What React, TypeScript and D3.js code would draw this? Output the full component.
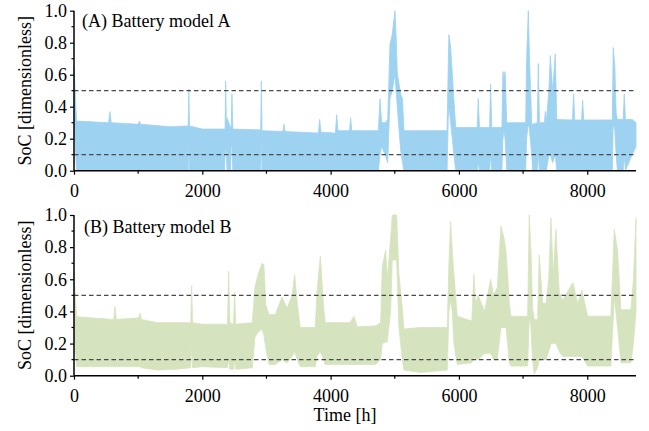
import { useEffect, useRef } from "react";
import * as d3 from "d3";

const width = 649;
const height = 431;
const left = 74;
const right = 636;

// hourly SoC (upper / lower edge of the daily swings)
const hoursA = [
  0, 40, 540, 560, 580, 1000, 1020, 1040, 1500, 1780, 1790, 1800, 2000, 2345, 2355, 2364, 2375, 2385, 2440, 2450,
  2462, 2475, 2900, 2910, 2920, 2930, 3255, 3273, 3290, 3810, 3829, 3850, 4075, 4094, 4115, 4295, 4312, 4330,
  4745, 4769, 4795, 4850, 4890, 4925, 4960, 5003, 5020, 5039, 5091, 5120, 5143, 5815, 5835, 5844, 5871, 5922,
  5950, 6285, 6301, 6320, 6478, 6494, 6512, 6670, 6685, 6703, 6720, 6745, 7040, 7055, 7081, 7100, 7135, 7150,
  7222, 7237, 7255, 7332, 7346, 7360, 7405, 7424, 7460, 7502, 7525, 7770, 7788, 7805, 7912, 7928, 7945, 8390,
  8405, 8430, 8450, 8470, 8560, 8577, 8595, 8700, 8760,
];
const highA = [
  0.65, 0.31, 0.3, 0.37, 0.3, 0.29, 0.31, 0.29, 0.275, 0.28, 0.51, 0.28, 0.26, 0.26, 0.26, 0.56, 0.3, 0.33, 0.27, 0.27,
  0.48, 0.26, 0.255, 0.255, 0.56, 0.25, 0.245, 0.29, 0.245, 0.235, 0.32, 0.24, 0.235, 0.35, 0.25, 0.25, 0.33, 0.25,
  0.25, 0.45, 0.3, 0.3, 0.32, 0.79, 0.85, 1.0, 0.85, 0.61, 0.48, 0.45, 0.25, 0.25, 0.7, 0.85, 0.77, 0.44,
  0.27, 0.27, 0.45, 0.27, 0.27, 0.54, 0.27, 0.27, 0.62, 0.58, 0.62, 0.3, 0.3, 0.7, 1.0, 0.7, 0.29, 0.29,
  0.3, 0.67, 0.3, 0.3, 0.37, 0.3, 0.52, 0.72, 0.5, 0.73, 0.32, 0.317, 0.48, 0.317, 0.317, 0.44, 0.317, 0.317,
  0.77, 0.65, 0.36, 0.32, 0.32, 0.48, 0.32, 0.32, 0.3,
];
const lowA = [
  0.3, 0, 0, 0, 0, 0, 0, 0, 0, 0, 0.2, 0, 0, 0, 0.1, 0.15, 0.1, 0, 0, 0.15,
  0.15, 0, 0, 0, 0.25, 0, 0, 0, 0, 0, 0, 0, 0, 0, 0, 0, 0, 0,
  0, 0.1, 0.15, 0.1, 0.05, 0.45, 0.5, 0.6, 0.5, 0.4, 0.13, 0.05, 0, 0, 0.35, 0.4, 0.3, 0.1,
  0, 0, 0.05, 0, 0, 0.1, 0, 0, 0.2, 0.25, 0.2, 0, 0, 0.2, 0.3, 0.25, 0.1, 0,
  0, 0.1, 0, 0, 0, 0, 0.1, 0.1, 0.05, 0.1, 0, 0, 0, 0, 0, 0, 0, 0,
  0.3, 0.25, 0.1, 0, 0, 0.1, 0, 0.1, 0.15,
];

const hoursB = [
  0, 40, 620, 639, 660, 1010, 1029, 1050, 1300, 1600, 1820, 1834, 1848, 2000, 2392, 2411, 2430, 2487, 2504,
  2520, 2780, 2820, 2870, 2930, 2960, 2990, 3040, 3137, 3242, 3320, 3400, 3439, 3480, 3527, 3761, 3787, 3840,
  3892, 3917, 4300, 4364, 4415, 4700, 4780, 4805, 4858, 4883, 4935, 4961, 5029, 5065, 5117, 5143, 5400, 5818,
  5844, 5871, 5896, 5922, 5974, 6200, 6234, 6260, 6300, 6400, 6494, 6540, 6598, 6655, 6707, 6733, 6759, 6785,
  6811, 7071, 7096, 7122, 7148, 7174, 7226, 7252, 7304, 7356, 7400, 7434, 7470, 7512, 7564, 7616, 7777, 7850,
  7918, 8006, 8369, 8421, 8473, 8525, 8681, 8720, 8760,
];
const highB = [
  0.64, 0.367, 0.35, 0.43, 0.35, 0.36, 0.39, 0.35, 0.33, 0.33, 0.33, 0.56, 0.33, 0.32, 0.32, 0.65, 0.33, 0.32, 0.52,
  0.32, 0.33, 0.55, 0.63, 0.7, 0.69, 0.44, 0.38, 0.38, 0.49, 0.42, 0.5, 0.63, 0.45, 0.3, 0.3, 0.52, 0.745,
  0.42, 0.33, 0.33, 0.37, 0.305, 0.31, 0.33, 0.68, 0.78, 0.6, 0.85, 1.0, 1.0, 0.63, 0.42, 0.29, 0.3, 0.3,
  0.7, 0.96, 0.78, 0.63, 0.37, 0.34, 0.63, 0.45, 0.5, 0.4, 0.6, 0.5, 0.55, 0.93, 0.85, 0.77, 0.63, 0.45,
  0.37, 0.37, 1.0, 0.78, 0.42, 0.35, 0.35, 0.75, 0.45, 0.45, 0.6, 0.98, 0.63, 0.91, 0.52, 0.47, 0.58, 0.45,
  0.53, 0.37, 0.37, 0.91, 0.78, 0.41, 0.41, 0.6, 0.98,
];
const lowB = [
  0.3, 0.056, 0.056, 0.056, 0.056, 0.056, 0.056, 0.05, 0.035, 0.04, 0.05, 0.2, 0.05, 0.056, 0.05, 0.1, 0.04, 0.04, 0.1,
  0.04, 0.05, 0.24, 0.27, 0.29, 0.25, 0.17, 0.07, 0.07, 0.1, 0.08, 0.12, 0.15, 0.1, 0.056, 0.056, 0.12, 0.15,
  0.1, 0.07, 0.07, 0.07, 0.07, 0.07, 0.1, 0.2, 0.21, 0.21, 0.4, 0.72, 0.72, 0.3, 0.1, 0.035, 0.02, 0.035,
  0.4, 0.47, 0.4, 0.2, 0.07, 0.08, 0.12, 0.1, 0.1, 0.14, 0.14, 0.1, 0.1, 0.3, 0.3, 0.3, 0.2, 0.08,
  0.06, 0.06, 0.36, 0.3, 0.1, 0.01, 0.05, 0.1, 0.1, 0.1, 0.15, 0.2, 0.2, 0.2, 0.15, 0.12, 0.12, 0.12,
  0.12, 0.06, 0.06, 0.49, 0.3, 0.08, 0.08, 0.2, 0.4,
];

const thresholds = [0.1, 0.5];
const xTicks = [0, 2000, 4000, 6000, 8000];
const xMinor = [1000, 3000, 5000, 7000];
const yTicks = [0, 0.2, 0.4, 0.6, 0.8, 1.0];
const yMinor = [0.1, 0.3, 0.5, 0.7, 0.9];

const panels = [
  { label: "(A) Battery model A", hours: hoursA, high: highA, low: lowA, color: "#9dd2f1", top: 10.7, bottom: 170.7, labelY: 27 },
  { label: "(B) Battery model B", hours: hoursB, high: highB, low: lowB, color: "#d5e3be", top: 215, bottom: 375.7, labelY: 233 },
];

const App = () => {
  const svgRef = useRef<SVGSVGElement>(null);

  useEffect(() => {
    const svg = d3.select(svgRef.current);
    svg.selectAll("*").remove();
    const font = "'Liberation Serif', 'Times New Roman', serif";
    const x = d3.scaleLinear().domain([0, 8760]).range([left, right]);

    panels.forEach((p, pi) => {
      const y = d3.scaleLinear().domain([0, 1]).range([p.bottom, p.top]);
      const g = svg.append("g");
      const idx = d3.range(p.hours.length);

      const band = d3
        .area<number>()
        .x((i) => x(p.hours[i]))
        .y0((i) => y(p.low[i]))
        .y1((i) => y(p.high[i]));
      g.append("path")
        .attr("d", band(idx))
        .attr("fill", p.color)
        .attr("stroke", p.color)
        .attr("stroke-width", 0.8);

      thresholds.forEach((t) => {
        g.append("line")
          .attr("x1", left)
          .attr("x2", right)
          .attr("y1", y(t))
          .attr("y2", y(t))
          .attr("stroke", "#4a4a4a")
          .attr("stroke-width", 1.2)
          .attr("stroke-dasharray", "4.5,3");
      });

      // y axis
      const yAxis = d3
        .axisLeft(y)
        .tickValues(yTicks)
        .tickSize(4)
        .tickPadding(3)
        .tickFormat(d3.format(".1f"));
      const ya = g.append("g").attr("transform", `translate(${left},0)`).call(yAxis);
      ya.select(".domain").attr("d", `M0,${p.bottom}V${p.top}`).attr("stroke-width", 1.5);
      yMinor.forEach((v) => {
        ya.append("line").attr("x1", -2.5).attr("x2", 0).attr("y1", y(v)).attr("y2", y(v)).attr("stroke", "#000").attr("stroke-width", 1.2);
      });

      // x axis
      const xAxis = d3.axisBottom(x).tickValues(xTicks).tickSize(4).tickPadding(10).tickFormat(d3.format("d"));
      const xa = g.append("g").attr("transform", `translate(0,${p.bottom})`).call(xAxis);
      xa.select(".domain").attr("d", `M${left},0H${right}`).attr("stroke-width", 1.5);
      xMinor.forEach((v) => {
        xa.append("line").attr("x1", x(v)).attr("x2", x(v)).attr("y1", 0).attr("y2", 3).attr("stroke", "#000").attr("stroke-width", 1.2);
      });

      [ya, xa].forEach((a) => {
        a.selectAll(".tick line").attr("stroke-width", 1.2);
        a.selectAll("text").attr("font-family", font).attr("font-size", 18).attr("fill", "#000");
      });

      g.append("text")
        .attr("x", pi === 0 ? 82 : 84)
        .attr("y", p.labelY)
        .attr("font-family", font)
        .attr("font-size", 18)
        .text(p.label);

      g.append("text")
        .attr("transform", `translate(31,${(p.top + p.bottom) / 2}) rotate(-90)`)
        .attr("text-anchor", "middle")
        .attr("font-family", font)
        .attr("font-size", 18)
        .text("SoC [dimensionless]");
    });

    svg
      .append("text")
      .attr("x", 345)
      .attr("y", 421)
      .attr("text-anchor", "middle")
      .attr("font-family", font)
      .attr("font-size", 18)
      .text("Time [h]");
  }, []);

  return (
    <svg
      ref={svgRef}
      width={width}
      height={height}
      style={{ position: "absolute", left: 0, top: 0, background: "#fff" }}
    />
  );
};

export default App;
